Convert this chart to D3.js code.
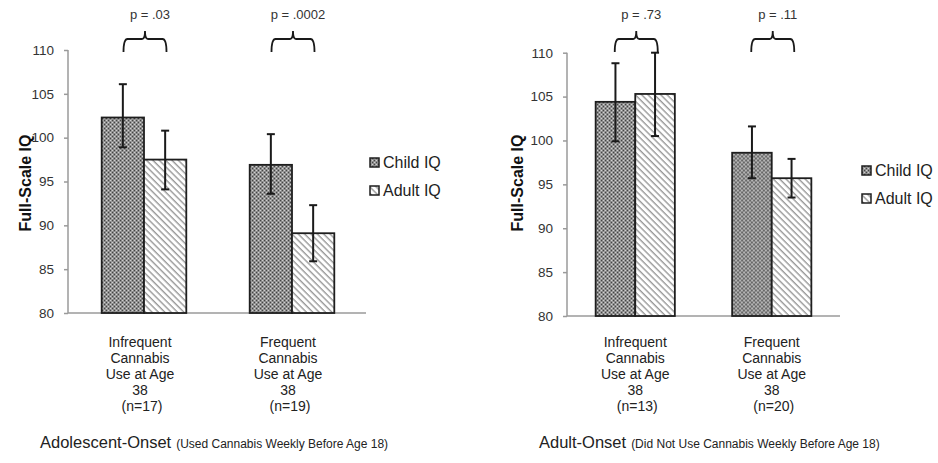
<!DOCTYPE html>
<head>
<meta charset="utf-8">
<title>Child vs Adult IQ by cannabis use</title>
<style>
    body { margin: 0; background: #fff; }
    svg { font-family: "Liberation Sans", Arial, sans-serif; }
</style>
</head>
<body>
<svg width="938" height="463"></svg>
<script src="https://d3js.org/d3.v7.min.js"></script>
<script>
    // values
    var series = ["Child IQ", "Adult IQ"];
    var yTicks = [80, 85, 90, 95, 100, 105, 110];

    var adolLabels = [["Infrequent", "Cannabis", "Use at Age", "38", " (n=17)"],
                      ["Frequent", "Cannabis", "Use at Age", "38", " (n=19)"]];
    var adolChild = [102.3, 96.9];
    var adolAdult = [97.5, 89.1];
    var adolChildLo = [98.9, 93.6], adolChildHi = [106.1, 100.4];
    var adolAdultLo = [94.1, 85.9], adolAdultHi = [100.8, 92.3];
    var adolP = ["p = .03", "p = .0002"];

    var lateLabels = [["Infrequent", "Cannabis", "Use at Age", "38", " (n=13)"],
                      ["Frequent", "Cannabis", "Use at Age", "38", " (n=20)"]];
    var lateChild = [104.4, 98.6];
    var lateAdult = [105.3, 95.7];
    var lateChildLo = [99.9, 95.7], lateChildHi = [108.8, 101.6];
    var lateAdultLo = [100.5, 93.5], lateAdultHi = [110.0, 97.9];
    var lateP = ["p = .73", "p = .11"];

    var svg = d3.select("svg");
    var defs = svg.append("defs");

    // dotted grey fill for child bars
    var dots = defs.append("pattern")
        .attr("id", "dots")
        .attr("patternUnits", "userSpaceOnUse")
        .attr("width", 4).attr("height", 4);
    dots.append("rect").attr("width", 4).attr("height", 4).attr("fill", "#8a8a8a");
    dots.append("rect").attr("x", 0).attr("y", 0).attr("width", 1).attr("height", 1).attr("fill", "#d0d0d0");
    dots.append("rect").attr("x", 2).attr("y", 2).attr("width", 1).attr("height", 1).attr("fill", "#d0d0d0");
    dots.append("rect").attr("x", 2).attr("y", 0).attr("width", 1).attr("height", 1).attr("fill", "#444");
    dots.append("rect").attr("x", 0).attr("y", 2).attr("width", 1).attr("height", 1).attr("fill", "#444");
    dots.append("rect").attr("x", 1).attr("y", 0).attr("width", 1).attr("height", 4).attr("fill", "#a5a5a5").attr("opacity", 0.6);

    // diagonal hatch for adult bars, running top-left to bottom-right
    var hatch = defs.append("pattern")
        .attr("id", "hatch")
        .attr("patternUnits", "userSpaceOnUse")
        .attr("width", 4.5).attr("height", 4.5)
        .attr("patternTransform", "rotate(45)");
    hatch.append("rect").attr("width", 4.5).attr("height", 4.5).attr("fill", "#fff");
    hatch.append("rect").attr("width", 4.5).attr("height", 1.4).attr("fill", "#999");

    var fills = { "Child IQ": "url(#dots)", "Adult IQ": "url(#hatch)" };

    function drawPanel(cfg) {
        var g = svg.append("g");
        var y = d3.scaleLinear().domain([80, 110]).range([cfg.yBottom, cfg.yTop]);
        var x0 = d3.scaleBand().domain([0, 1]).range(cfg.xRange);
        var x1 = d3.scaleBand().domain(series)
            .range([x0.bandwidth() / 2 - cfg.barW, x0.bandwidth() / 2 + cfg.barW]);

        // y axis
        var yAxis = g.append("g")
            .attr("transform", "translate(" + cfg.axisX + ",0)")
            .call(d3.axisLeft(y).tickValues(yTicks).tickSize(4).tickPadding(10));
        yAxis.selectAll("path, line").attr("stroke", "#9a9a9a").attr("stroke-width", 1.5);
        yAxis.select(".domain").attr("d", "M0," + cfg.yBottom + "V" + cfg.yTop);
        yAxis.selectAll("text").attr("fill", "#333").style("font-size", "13.5px")
            .style("font-family", "Liberation Sans, Arial, sans-serif");

        // x baseline
        g.append("line")
            .attr("x1", cfg.axisX).attr("x2", cfg.xRange[1])
            .attr("y1", cfg.yBottom).attr("y2", cfg.yBottom)
            .attr("stroke", "#9a9a9a").attr("stroke-width", 1.5);

        var rows = [0, 1].map(function(i) {
            return [
                { s: "Child IQ", v: cfg.child[i], lo: cfg.childLo[i], hi: cfg.childHi[i], i: i },
                { s: "Adult IQ", v: cfg.adult[i], lo: cfg.adultLo[i], hi: cfg.adultHi[i], i: i }
            ];
        });

        var grp = g.selectAll("g.grp")
            .data(rows)
            .enter().append("g")
            .attr("class", "grp")
            .attr("transform", function(d, i) { return "translate(" + x0(i) + ",0)"; });

        grp.selectAll("rect")
            .data(function(d) { return d; })
            .enter().append("rect")
            .attr("x", function(d) { return x1(d.s); })
            .attr("width", x1.bandwidth())
            .attr("y", function(d) { return y(d.v); })
            .attr("height", function(d) { return y(80) - y(d.v); })
            .attr("fill", function(d) { return fills[d.s]; })
            .attr("stroke", "#1e1e1e")
            .attr("stroke-width", 1.8);

        // error bars
        var eb = grp.selectAll("g.err")
            .data(function(d) { return d; })
            .enter().append("g")
            .attr("class", "err")
            .attr("stroke", "#1a1a1a")
            .attr("stroke-width", 2);
        eb.append("line")
            .attr("x1", function(d) { return x1(d.s) + x1.bandwidth() / 2; })
            .attr("x2", function(d) { return x1(d.s) + x1.bandwidth() / 2; })
            .attr("y1", function(d) { return y(d.lo); })
            .attr("y2", function(d) { return y(d.hi); });
        eb.selectAll("line.cap")
            .data(function(d) { return [d.lo, d.hi].map(function(v) { return { s: d.s, v: v }; }); })
            .enter().append("line")
            .attr("class", "cap")
            .attr("x1", function(d) { return x1(d.s) + x1.bandwidth() / 2 - 4; })
            .attr("x2", function(d) { return x1(d.s) + x1.bandwidth() / 2 + 4; })
            .attr("y1", function(d) { return y(d.v); })
            .attr("y2", function(d) { return y(d.v); });

        // braces and p values
        var cx = x0.bandwidth() / 2 + 1;
        var w = 21.5;
        grp.append("path")
            .attr("fill", "none")
            .attr("stroke", "#1a1a1a")
            .attr("stroke-width", 1.8)
            .attr("d", function() {
                return "M" + (cx - w) + ",52 Q" + (cx - w) + ",39 " + (cx - w + 4) + ",39" +
                    " L" + (cx - 3) + ",39 Q" + cx + ",39 " + cx + ",31 Q" + cx + ",39 " + (cx + 3) + ",39" +
                    " L" + (cx + w - 4) + ",39 Q" + (cx + w) + ",39 " + (cx + w) + ",52";
            });
        grp.append("text")
            .attr("x", cx + 5)
            .attr("y", 19)
            .attr("text-anchor", "middle")
            .attr("fill", "#333")
            .style("font-size", "13px")
            .text(function(d, i) { return cfg.p[i]; });

        // category labels
        grp.append("text")
            .attr("text-anchor", "middle")
            .attr("fill", "#222")
            .style("font-size", "14px")
            .selectAll("tspan")
            .data(function(d, i) { return cfg.labels[i]; })
            .enter().append("tspan")
            .attr("x", x0.bandwidth() / 2 + cfg.labelOff)
            .attr("y", function(d, i) { return 347 + i * 16; })
            .text(function(d) { return d; });

        // y title
        g.append("text")
            .attr("transform", "translate(" + cfg.titleX + ",183) rotate(-90)")
            .attr("text-anchor", "middle")
            .attr("fill", "#111")
            .style("font-size", "16px")
            .style("font-weight", "bold")
            .text("Full-Scale IQ");

        // legend
        var leg = g.selectAll("g.leg")
            .data(series)
            .enter().append("g")
            .attr("class", "leg")
            .attr("transform", function(d, i) { return "translate(" + cfg.legX + "," + (cfg.legY + i * 28) + ")"; });
        leg.append("rect")
            .attr("width", 9).attr("height", 9)
            .attr("fill", function(d) { return fills[d]; })
            .attr("stroke", "#1e1e1e").attr("stroke-width", 1.5);
        leg.append("text")
            .attr("x", 13).attr("y", 10)
            .attr("fill", "#222")
            .style("font-size", "16px")
            .text(function(d) { return d; });

        // caption
        var cap = g.append("text")
            .attr("x", cfg.capX).attr("y", 448)
            .attr("fill", "#222");
        cap.append("tspan").style("font-size", "16.5px").text(cfg.capMain);
        cap.append("tspan").style("font-size", "12px").attr("dx", 5).text(cfg.capSmall);
    }

    drawPanel({
        child: adolChild, adult: adolAdult,
        childLo: adolChildLo, childHi: adolChildHi, adultLo: adolAdultLo, adultHi: adolAdultHi,
        p: adolP, labels: adolLabels,
        axisX: 68, xRange: [70, 366], yBottom: 313, yTop: 50, barW: 42.3, labelOff: -4,
        titleX: 31, legX: 370, legY: 158,
        capX: 40, capMain: "Adolescent-Onset", capSmall: "(Used Cannabis Weekly Before Age 18)"
    });

    drawPanel({
        child: lateChild, adult: lateAdult,
        childLo: lateChildLo, childHi: lateChildHi, adultLo: lateAdultLo, adultHi: lateAdultHi,
        p: lateP, labels: lateLabels,
        axisX: 567, xRange: [567, 840], yBottom: 316, yTop: 52.7, barW: 39.6, labelOff: 0,
        titleX: 523, legX: 862, legY: 166,
        capX: 539, capMain: "Adult-Onset", capSmall: "(Did Not Use Cannabis Weekly Before Age 18)"
    });
</script>
</body>
